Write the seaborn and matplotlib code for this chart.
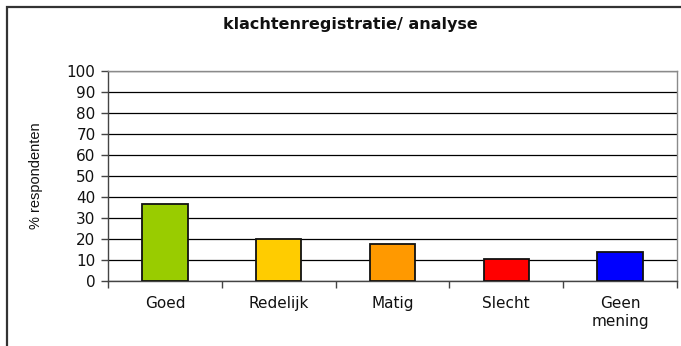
import matplotlib
matplotlib.use("Agg")
import matplotlib.pyplot as plt
from matplotlib.patches import Rectangle
from matplotlib.ticker import FixedLocator, NullFormatter
import seaborn as sns
import pandas as pd

categories = ["Goed", "Redelijk", "Matig", "Slecht", "Geen\nmening"]
percentages = [36.5, 20.0, 17.6, 10.5, 13.8]
bar_colors = ["#99CC00", "#FFCC00", "#FF9900", "#FF0000", "#0000FF"]
y_ticks = list(range(0, 101, 10))

title = "klachtenregistratie/ analyse"
y_label = "% respondenten"

sns.set_theme(style="white")
plt.rcParams["font.family"] = ["DejaVu Sans"]

W, H = 681, 346
fig = plt.figure(figsize=(W / 100, H / 100), dpi=100)

# chart frame (extends past right and bottom edges)
fig.patches.append(Rectangle((7 / W, -0.1), 1.2, 1 - 6.5 / H + 0.1,
                             transform=fig.transFigure, fill=False,
                             edgecolor="#333333", linewidth=1.6))

ax = fig.add_axes([108 / W, (H - 281) / H, (677 - 108) / W, (281 - 71) / H])

df = pd.DataFrame({"cat": categories, "pct": percentages})
sns.barplot(data=df, x="cat", y="pct", hue="cat", palette=bar_colors,
            legend=False, width=0.4, edgecolor="#111111", linewidth=1.3,
            saturation=1, ax=ax, zorder=3)

ax.set_ylim(0, 100)
ax.set_xlim(-0.5, len(categories) - 0.5)
ax.set_yticks(y_ticks)
ax.yaxis.grid(True, color="#000000", linewidth=0.9)
ax.set_axisbelow(True)

for side in ("top", "right"):
    ax.spines[side].set_color("#8a8a8a")
    ax.spines[side].set_linewidth(1.0)
for side in ("left", "bottom"):
    ax.spines[side].set_color("#444444")
    ax.spines[side].set_linewidth(1.0)

ax.tick_params(axis="y", which="major", direction="out", length=5, width=1,
               color="#444444", labelsize=11, pad=4, left=True,
               labelcolor="#111111")
ax.tick_params(axis="x", which="major", length=0, labelsize=11, pad=11,
               labelcolor="#111111")
ax.xaxis.set_minor_locator(FixedLocator([i + 0.5 for i in range(-1, len(categories))]))
ax.xaxis.set_minor_formatter(NullFormatter())
ax.tick_params(axis="x", which="minor", direction="out", length=5, width=1,
               color="#444444", bottom=True)
for lbl in ax.get_xticklabels():
    lbl.set_linespacing(1.2)

ax.set_xlabel("")
ax.set_ylabel(y_label, fontsize=10.5, family=["Liberation Sans", "DejaVu Sans"],
              color="#111111")
ax.yaxis.set_label_coords(-0.115, 0.5)

fig.text(350 / W, 1 - 25 / H, title, ha="center", va="center",
         fontsize=11.5, fontweight="bold", color="#111111")

fig.savefig("out.png", dpi=100)
